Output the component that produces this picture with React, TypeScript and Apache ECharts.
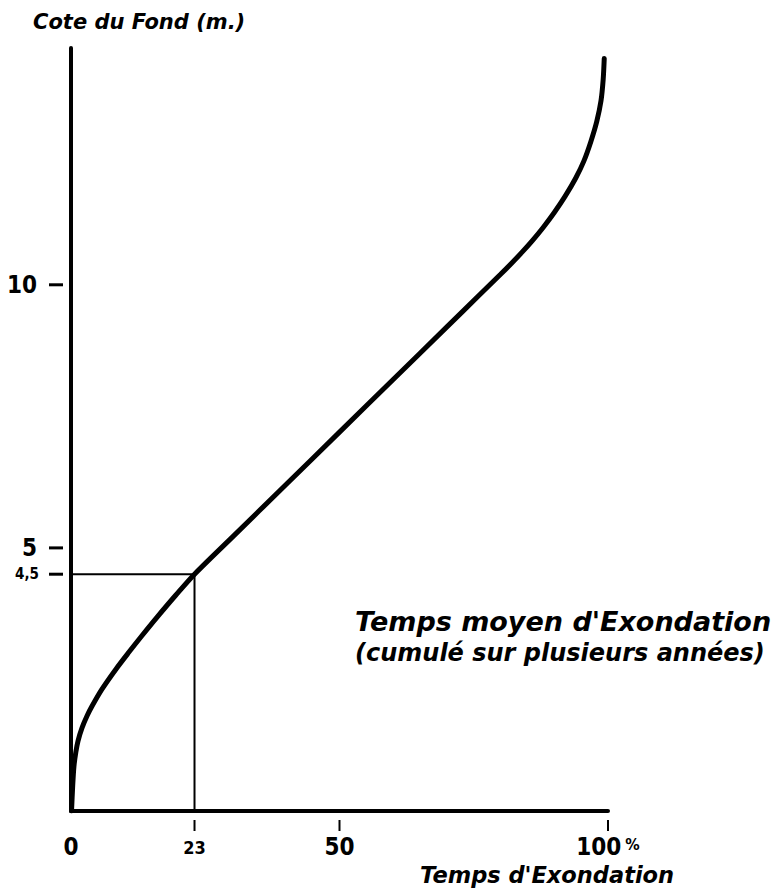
import React, { useEffect, useRef } from "react";
import * as echarts from "echarts";

const curveX = [0.1, 0.3, 0.55, 0.9, 1.3, 2.05, 3.0, 3.9, 5.8, 8.4, 10.8, 13.2, 16, 19.5, 23, 30, 40, 50, 60, 70, 76, 80, 82, 84, 86, 88, 90, 92, 94, 95.5, 96.8, 97.9, 98.7, 99.1, 99.3];
const curveY = [0, 0.45, 0.85, 1.12, 1.33, 1.58, 1.81, 1.99, 2.32, 2.7, 3.02, 3.33, 3.68, 4.1, 4.5, 5.2, 6.2, 7.2, 8.2, 9.2, 9.8, 10.2, 10.405, 10.62, 10.85, 11.1, 11.375, 11.68, 12.03, 12.35, 12.72, 13.1, 13.5, 13.9, 14.3];
const refX = [0, 23, 23];
const refY = [4.5, 4.5, 0];
const xLabelValues = [0, 23, 50, 100];
const yLabelValues = [4.5, 5, 10];

const numFont = '"DejaVu Sans Condensed", "Liberation Sans Narrow", "DejaVu Sans", sans-serif';
const textFont = '"DejaVu Sans", "Liberation Sans", sans-serif';

export default function App() {
  const ref = useRef<HTMLDivElement>(null);
  useEffect(() => {
    document.body.style.margin = "0";
    const chart = echarts.init(ref.current!, null, { renderer: "svg" });
    const curve = curveX.map((x, i) => [x, curveY[i]]);
    const refLine = refX.map((x, i) => [x, refY[i]]);
    chart.setOption({
      animation: false,
      backgroundColor: "#ffffff",
      grid: { left: 71, right: 165, top: 48, bottom: 79, containLabel: false },
      xAxis: {
        type: "value", min: 0, max: 100,
        axisLine: { show: true, lineStyle: { color: "#000", width: 4, cap: "round" } },
        axisTick: { show: false },
        splitLine: { show: false },
        axisLabel: {
          show: true, margin: 9, customValues: xLabelValues, color: "#000", align: "center",
          formatter: (v: number) => {
            const tick = v === 0 ? "{e| }" : "{t| }";
            const num = v === 23 ? "{s|23}" : v === 100 ? "{n|100}{p|%}" : `{n|${v}}`;
            return `${tick}\n${num}`;
          },
          rich: {
            t: { width: 2, height: 11, lineHeight: 11, backgroundColor: "#000", fontSize: 1 },
            e: { width: 2, height: 11, lineHeight: 11, fontSize: 1 },
            n: { fontFamily: numFont, fontWeight: "bold", fontSize: 24, lineHeight: 32, color: "#000" },
            s: { fontFamily: numFont, fontWeight: "bold", fontSize: 18, lineHeight: 32, color: "#000" },
            p: { fontFamily: numFont, fontWeight: "bold", fontSize: 16, lineHeight: 32, color: "#000", padding: [0, 0, 6, 4] },
          },
        },
      },
      yAxis: {
        type: "value", min: 0, max: 14.5,
        axisLine: { show: true, lineStyle: { color: "#000", width: 4, cap: "round" } },
        axisTick: { show: false },
        splitLine: { show: false },
        axisLabel: {
          show: true, margin: 8, customValues: yLabelValues, color: "#000",
          formatter: (v: number) => (v === 4.5 ? "{s|4,5}{g2| }{d| }" : `{n|${v}}{g| }{d| }`),
          rich: {
            n: { fontFamily: numFont, fontWeight: "bold", fontSize: 24, color: "#000", verticalAlign: "middle" },
            s: { fontFamily: numFont, fontWeight: "bold", fontSize: 15, color: "#000", verticalAlign: "middle" },
            g: { width: 12, fontSize: 1, verticalAlign: "middle" },
            g2: { width: 10, fontSize: 1, verticalAlign: "middle" },
            d: { width: 14, height: 3, fontSize: 1, backgroundColor: "#000", verticalAlign: "middle" },
          },
        },
      },
      series: [
        {
          type: "line", data: refLine, showSymbol: false,
          lineStyle: { color: "#000", width: 2 },
        },
        {
          type: "line", data: curve, smooth: 0.3, showSymbol: false,
          lineStyle: { color: "#000", width: 5, cap: "round" },
        },
      ],
      graphic: [
        { type: "text", left: 33, top: 11, style: { text: "Cote du Fond (m.)", font: `italic bold 21px ${textFont}`, fill: "#000" } },
        { type: "text", left: 420, top: 863, style: { text: "Temps d'Exondation", font: `italic bold 22.5px ${textFont}`, fill: "#000" } },
        { type: "text", left: 355, top: 608, style: { text: "Temps moyen d'Exondation", font: `italic bold 27px ${textFont}`, fill: "#000" } },
        { type: "text", left: 355, top: 641, style: { text: "(cumulé sur plusieurs années)", font: `italic bold 24px ${textFont}`, fill: "#000" } },
      ],
    });
    return () => chart.dispose();
  }, []);
  return <div ref={ref} style={{ width: 773, height: 890 }} />;
}
